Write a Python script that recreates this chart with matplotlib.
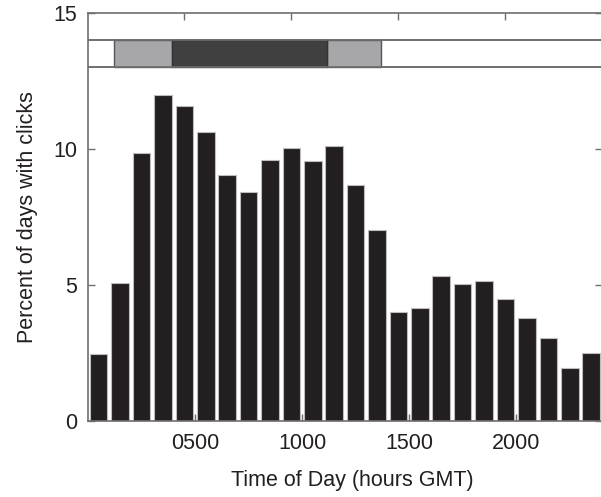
import matplotlib
matplotlib.use("Agg")
import matplotlib.pyplot as plt
import numpy as np

plt.rcParams['font.family'] = ['Liberation Sans', 'DejaVu Sans']

# Hourly detection rate (percent of days with clicks), hour 0 .. 23 GMT
hours = np.arange(24)
percent_days = [2.46, 5.07, 9.86, 12.0, 11.56, 10.63, 9.04, 8.43, 9.59, 10.02,
                9.56, 10.09, 8.67, 7.01, 4.02, 4.14, 5.33, 5.04, 5.15, 4.49,
                3.80, 3.04, 1.93, 2.48]

# Light regime band (hours GMT): twilight / daylight / twilight
twilight_1 = (123, 391)
daylight = (391, 1116)
twilight_2 = (1116, 1370)

x_ticks = [500, 1000, 1500, 2000]
x_tick_labels = ["0500", "1000", "1500", "2000"]
y_ticks = [0, 5, 10, 15]

spine_color = "#6e6e6e"
bar_color = "#231f20"
text_color = "#231f20"
font_size = 15.5

fig = plt.figure(figsize=(6.01, 4.97), dpi=100)
ax = fig.add_axes([0.1464, 0.153, 0.855, 0.821])

centers = hours * 100 + 50
ax.bar(centers, percent_days, width=82, color=bar_color,
       edgecolor="#bdbdbd", linewidth=0.8, zorder=2)

# Light regime band between y = 13 and 14
band_y, band_h = 13, 1
ax.broken_barh([(0, 2400)], (band_y, band_h), facecolor="white",
               edgecolor=spine_color, linewidth=1.2, zorder=3)
ax.broken_barh([(twilight_1[0], twilight_1[1] - twilight_1[0]),
                (twilight_2[0], twilight_2[1] - twilight_2[0])],
               (band_y, band_h), facecolor="#a7a7a9",
               edgecolor="#555555", linewidth=1.0, zorder=4)
ax.broken_barh([(daylight[0], daylight[1] - daylight[0])],
               (band_y, band_h), facecolor="#404040",
               edgecolor="#333333", linewidth=1.0, zorder=5)
ax.axhline(band_y, color=spine_color, linewidth=1.2, zorder=6)
ax.axhline(band_y + band_h, color=spine_color, linewidth=1.2, zorder=6)

ax.set_xlim(0, 2400)
ax.set_ylim(0, 15)
ax.set_xticks(x_ticks)
ax.set_xticklabels(x_tick_labels)
ax.set_yticks(y_ticks)

for s in ax.spines.values():
    s.set_color(spine_color)
    s.set_linewidth(1.2)

ax.tick_params(axis='both', direction='in', length=5, width=1.0,
               color=spine_color, labelsize=font_size, labelcolor=text_color)
ax.tick_params(axis='y', right=True, pad=8)
ax.tick_params(axis='x', pad=9)

# Top-edge ticks on the hour-start scale
top = ax.twiny()
top.set_xlim(50, 2450)
top.set_xticks(x_ticks)
top.set_xticklabels([])
top.tick_params(axis='x', direction='in', length=5, width=1.0, color=spine_color)
for s in top.spines.values():
    s.set_visible(False)

ax.set_xlabel("Time of Day (hours GMT)", fontsize=font_size, color=text_color)
ax.set_ylabel("Percent of days with clicks", fontsize=font_size, color=text_color)
ax.xaxis.set_label_coords(0.515, -0.12)
ax.yaxis.set_label_coords(-0.097, 0.5)

fig.savefig("out.png", dpi=100)
